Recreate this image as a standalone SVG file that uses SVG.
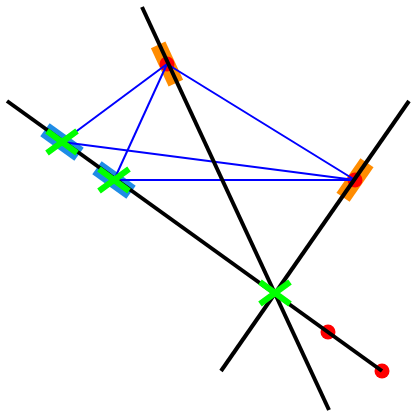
<svg xmlns="http://www.w3.org/2000/svg" width="417" height="417" viewBox="0 0 417 417">
<style>
.bk{stroke:#000;stroke-width:4;fill:none}
.bl{stroke:#0000ff;stroke-width:2;fill:none}
.gx{stroke:#00ff00;stroke-width:6;fill:none}
.or{fill:#ff8c00}
.bb{fill:#1e8ce6}
.rd{fill:#ff0000}
</style>
<defs>
<path id="x" d="M-15,-11L15,11M15,-11L-15,11"/>
<rect id="r" x="-21" y="-8" width="42" height="16"/>
</defs>
<rect width="417" height="417" fill="#fff"/>
<g id="markers-bg">
<use href="#r" class="or" transform="translate(167,64) rotate(65.1)"/>
<use href="#r" class="or" transform="translate(355,180) rotate(-55.2)"/>
<use href="#r" class="bb" transform="translate(62,142) rotate(35.8)"/>
<use href="#r" class="bb" transform="translate(114,180) rotate(35.8)"/>
</g>
<g id="dots">
<circle class="rd" cx="167" cy="64" r="7.5"/>
<circle class="rd" cx="355" cy="180" r="7.5"/>
<circle class="rd" cx="328" cy="332" r="7.5"/>
<circle class="rd" cx="382" cy="371" r="7.5"/>
</g>
<g id="connectors">
<line class="bl" x1="167" y1="64" x2="62" y2="142"/>
<line class="bl" x1="167" y1="64" x2="114" y2="180"/>
<line class="bl" x1="167" y1="64" x2="355" y2="180"/>
<line class="bl" x1="62" y1="142" x2="355" y2="180"/>
<line class="bl" x1="114" y1="180" x2="355" y2="180"/>
</g>
<g id="lines">
<line class="bk" x1="7" y1="101" x2="382" y2="371"/>
<line class="bk" x1="142" y1="7" x2="329" y2="410"/>
<line class="bk" x1="409" y1="101" x2="221" y2="371"/>
</g>
<g id="crosses">
<use href="#x" class="gx" transform="translate(62,142)"/>
<use href="#x" class="gx" transform="translate(114,180)"/>
<use href="#x" class="gx" transform="translate(275,293)"/>
</g>
</svg>
